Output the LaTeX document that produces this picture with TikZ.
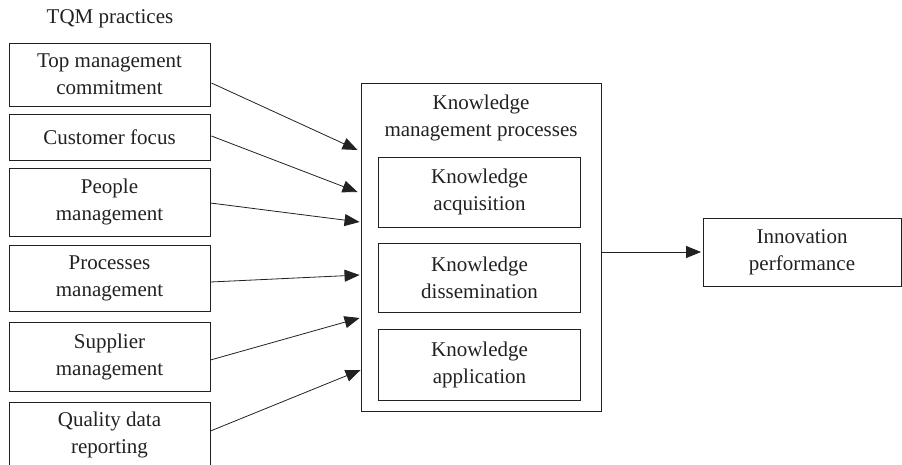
\documentclass[tikz,border=0pt]{standalone}
\usepackage{fontspec}
\setmainfont{Liberation Serif}
\usetikzlibrary{arrows.meta,calc}
\definecolor{ink}{gray}{0.13}
\tikzset{
  box/.style={draw=ink, line width=0.9pt, rectangle, inner sep=0pt, align=center,
    text=ink, font=\fontsize{21}{27}\selectfont},
  lbl/.style={inner sep=0pt, align=center, text=ink, font=\fontsize{21}{27}\selectfont},
  conn/.style={draw=ink, line width=0.8pt, -{Triangle[length=15pt,width=12pt]}}
}
\begin{document}
\begin{tikzpicture}[x=1pt,y=-1pt]
\useasboundingbox (0,0) rectangle (902,464);
\node[lbl] (title) at (110,19) {TQM practices};
\node[box, minimum width=201pt, minimum height=63pt] (t1) at (109.5,74.5) {Top management\\commitment};
\node[box, minimum width=201pt, minimum height=46pt] (t2) at (109.5,137) {Customer focus};
\node[box, minimum width=201pt, minimum height=68pt] (t3) at (109.5,202) {People\\management};
\node[box, minimum width=201pt, minimum height=66pt] (t4) at (109.5,278) {Processes\\management};
\node[box, minimum width=201pt, minimum height=69pt] (t5) at (109.5,356.5) {Supplier\\management};
\node[box, minimum width=201pt, minimum height=66pt] (t6) at (109.5,435) {Quality data\\reporting};
\node[box, minimum width=240pt, minimum height=328pt] (km) at (481,247) {};
\node[lbl] (kmt) at (481,118) {Knowledge\\management processes};
\node[box, minimum width=202pt, minimum height=70pt] (ka) at (479.5,192) {Knowledge\\acquisition};
\node[box, minimum width=202pt, minimum height=69pt] (kd) at (479.5,277.5) {Knowledge\\dissemination};
\node[box, minimum width=202pt, minimum height=71pt] (kp) at (479.5,364.5) {Knowledge\\application};
\node[box, minimum width=198pt, minimum height=68pt] (ip) at (802,252) {Innovation\\performance};
\draw[conn] ($(t1.east)+(1,8.5)$) -- ($(km.west)+(-3,-97)$);
\draw[conn] ($(t2.east)+(1,-1)$) -- ($(km.west)+(-3,-55)$);
\draw[conn] ($(t3.east)+(0,1)$) -- ($(km.west)+(-1,-25)$);
\draw[conn] ($(t4.east)+(0,4)$) -- ($(km.west)+(-1,28)$);
\draw[conn] ($(t5.east)+(0,3.5)$) -- ($(km.west)+(-1,71)$);
\draw[conn] ($(t6.east)+(0,-4)$) -- ($(km.west)+(0,123)$);
\draw[conn, shorten >=1.5pt] (km.east |- ip.west) -- (ip.west);
\end{tikzpicture}
\end{document}
